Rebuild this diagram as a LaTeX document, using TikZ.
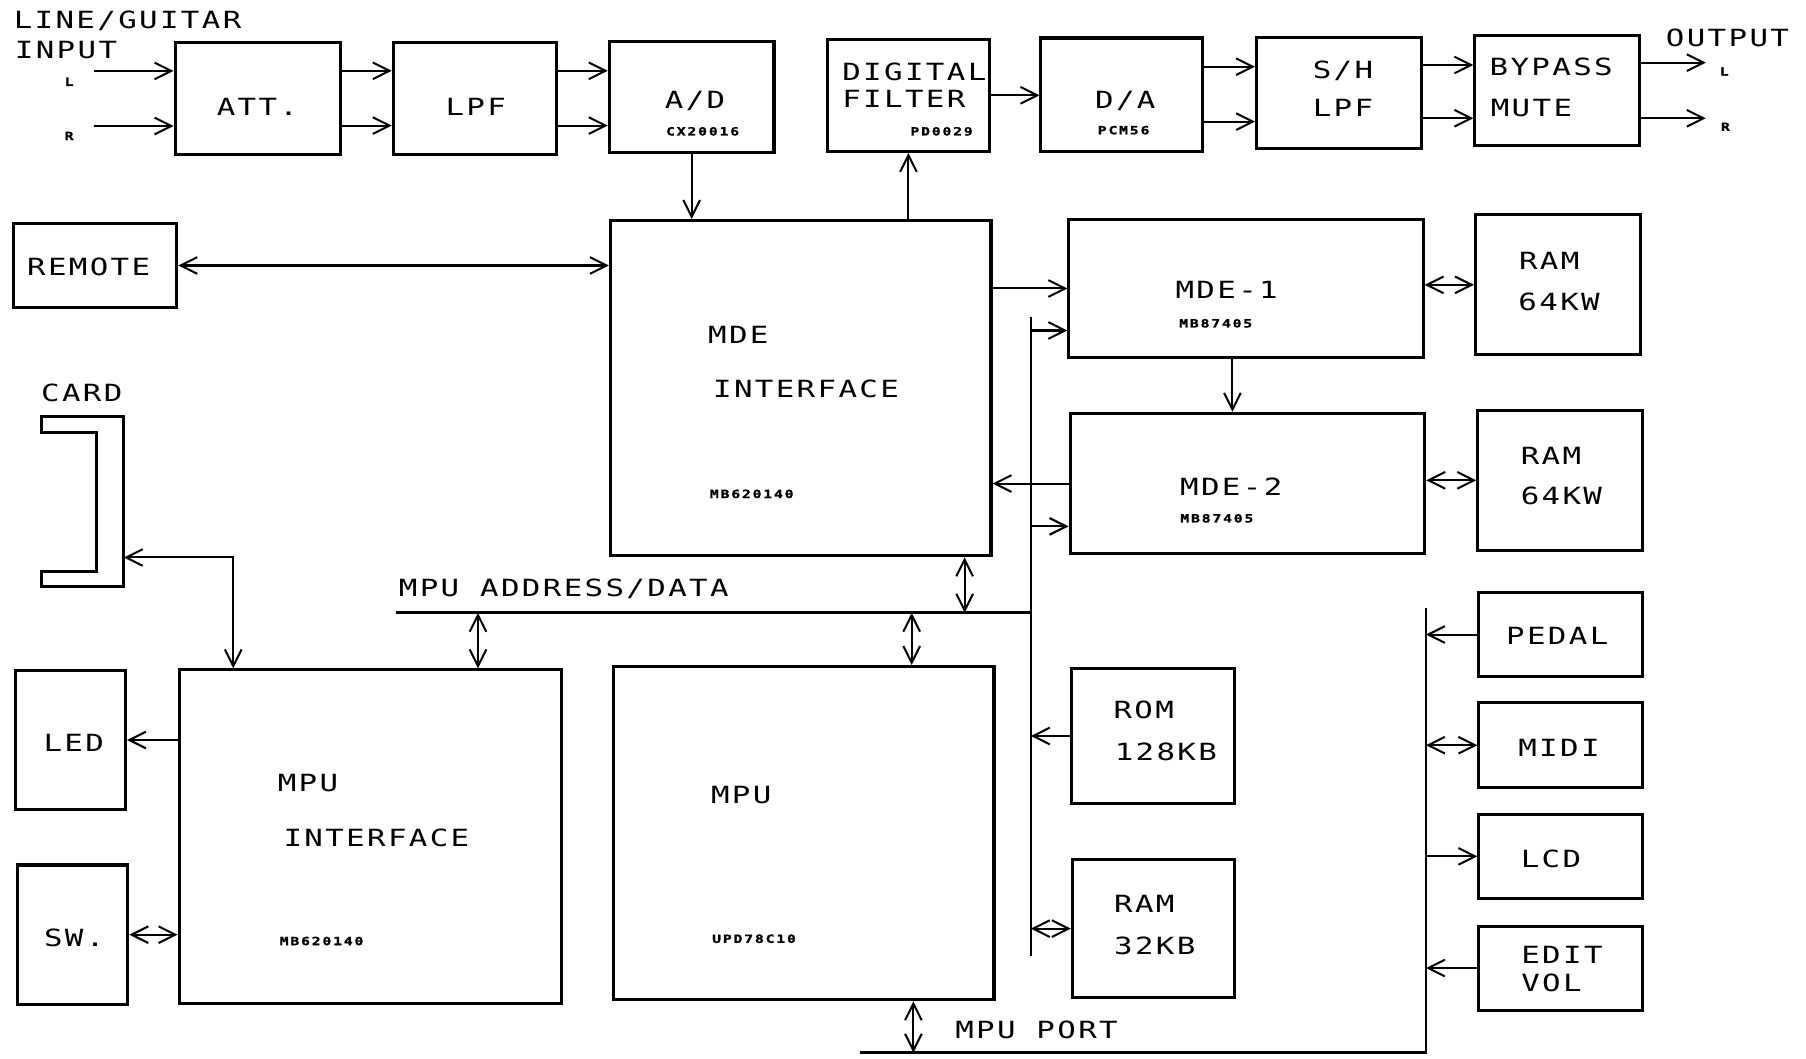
\documentclass[tikz,border=0pt]{standalone}
\usepackage{fontspec}
\usepackage{tikz}
\usetikzlibrary{arrows.meta}
\newfontfamily\plotfont{DejaVu Sans Mono}[FakeStretch=1.3, LetterSpace=10]
\newfontfamily\chipfont{DejaVu Sans Mono}[FakeStretch=1.3, LetterSpace=16, BoldFeatures={FakeBold=1.5}]
\tikzstyle{block} = [rectangle, draw=black, line width=1.5pt, inner sep=0pt]
\tikzstyle{txt} = [font=\plotfont\fontsize{11.7}{14}\selectfont, inner sep=0pt, text height=8.5pt, text depth=0pt]
\tikzstyle{chip} = [font=\chipfont\bfseries\fontsize{5.6}{7}\selectfont, inner sep=0pt, text height=4.1pt, text depth=0pt]
\tikzstyle{arrow} = [line width=1pt, -{Straight Barb[length=2.9mm, width=2.9mm]}]
\tikzstyle{dblarrow} = [line width=1pt, {Straight Barb[length=2.9mm, width=2.9mm]}-{Straight Barb[length=2.9mm, width=2.9mm]}]
\tikzstyle{bus} = [line width=1.3pt]

\begin{document}
\begin{tikzpicture}
	\useasboundingbox (0,0) rectangle (31.36,-18.372);
	% audio path
	\node (att) [block, minimum width=2.88cm, minimum height=1.94cm] at (4.48,-1.71) {};
	\node (lpf) [block, minimum width=2.84cm, minimum height=1.94cm] at (8.25,-1.71) {};
	\node (adc) [block, minimum width=2.86cm, minimum height=1.93cm] at (12.01,-1.68) {};
	\node (dfilt) [block, minimum width=2.81cm, minimum height=1.95cm] at (15.775,-1.655) {};
	\node (dac) [block, minimum width=2.81cm, minimum height=1.97cm] at (19.48,-1.645) {};
	\node (shlpf) [block, minimum width=2.87cm, minimum height=1.93cm] at (23.255,-1.61) {};
	\node (bypass) [block, minimum width=2.86cm, minimum height=1.92cm] at (27.04,-1.57) {};

	\node (inlbl) [txt, anchor=west] at (0.232,-0.348) {LINE/GUITAR};
	\node (inlbl2) [txt, anchor=west] at (0.252,-0.86) {INPUT};
	\node (inl) [chip] at (1.2,-1.42) {L};
	\node (inr) [chip] at (1.2,-2.36) {R};
	\node (atttxt) [txt] at (4.47,-1.86) {ATT.};
	\node (lpftxt) [txt] at (8.26,-1.85) {LPF};
	\node (adctxt) [txt] at (12.07,-1.74) {A/D};
	\node (adcchip) [chip] at (12.2,-2.28) {CX20016};
	\node (dfilttxt) [txt, anchor=west] at (14.62,-1.24) {DIGITAL};
	\node (dfilttxt2) [txt, anchor=west] at (14.62,-1.72) {FILTER};
	\node (dfiltchip) [chip] at (16.35,-2.28) {PD0029};
	\node (dactxt) [txt] at (19.54,-1.74) {D/A};
	\node (dacchip) [chip] at (19.51,-2.26) {PCM56};
	\node (shtxt) [txt] at (23.32,-1.216) {S/H};
	\node (shtxt2) [txt] at (23.32,-1.88) {LPF};
	\node (bypasstxt) [txt, anchor=west] at (25.86,-1.158) {BYPASS};
	\node (bypasstxt2) [txt, anchor=west] at (25.88,-1.88) {MUTE};
	\node (outlbl) [txt, anchor=west] at (28.92,-0.666) {OUTPUT};
	\node (outl) [chip] at (29.94,-1.24) {L};
	\node (outr) [chip] at (29.96,-2.2) {R};

	\coordinate (inLs) at (1.628,-1.232);
	\coordinate (inRs) at (1.628,-2.188);
	\coordinate (outLe) at (29.62,-1.088);
	\coordinate (outRe) at (29.62,-2.054);
	\draw [arrow] (inLs) -- (inLs -| att.west);
	\draw [arrow] (inRs) -- (inRs -| att.west);
	\draw [arrow] ([yshift=0.48cm]att.east) -- ([yshift=0.48cm]att.east -| lpf.west);
	\draw [arrow] ([yshift=-0.47cm]att.east) -- ([yshift=-0.47cm]att.east -| lpf.west);
	\draw [arrow] ([yshift=0.48cm]lpf.east) -- ([yshift=0.48cm]lpf.east -| adc.west);
	\draw [arrow] ([yshift=-0.47cm]lpf.east) -- ([yshift=-0.47cm]lpf.east -| adc.west);
	\draw [arrow] (dfilt.east) -- (dfilt.east -| dac.west);
	\draw [arrow] ([yshift=0.487cm]dac.east) -- ([yshift=0.487cm]dac.east -| shlpf.west);
	\draw [arrow] ([yshift=-0.467cm]dac.east) -- ([yshift=-0.467cm]dac.east -| shlpf.west);
	\draw [arrow] ([yshift=0.482cm]shlpf.east) -- ([yshift=0.482cm]shlpf.east -| bypass.west);
	\draw [arrow] ([yshift=-0.444cm]shlpf.east) -- ([yshift=-0.444cm]shlpf.east -| bypass.west);
	\draw [arrow] (outLe -| bypass.east) -- (outLe);
	\draw [arrow] (outRe -| bypass.east) -- (outRe);

	% mde section
	\node (remote) [block, minimum width=2.84cm, minimum height=1.46cm] at (1.65,-4.61) {};
	\node (remotetxt) [txt] at (1.54,-4.64) {REMOTE};
	\node (mdeif) [block, minimum width=6.608cm, minimum height=5.822cm] at (13.904,-6.741) {};
	\node (mdeiftxt) [txt, anchor=west] at (12.29,-5.816) {MDE};
	\node (mdeiftxt2) [txt, anchor=west] at (12.376,-6.76) {INTERFACE};
	\node (mdeifchip) [chip, anchor=west] at (12.32,-8.576) {MB620140};
	\node (mde1) [block, minimum width=6.15cm, minimum height=2.40cm] at (21.635,-5.009) {};
	\node (mde1txt) [txt] at (21.3,-5.034) {MDE-1};
	\node (mde1chip) [chip] at (21.11,-5.614) {MB87405};
	\node (mde2) [block, minimum width=6.16cm, minimum height=2.44cm] at (21.66,-8.397) {};
	\node (mde2txt) [txt] at (21.38,-8.448) {MDE-2};
	\node (mde2chip) [chip] at (21.13,-9.0) {MB87405};
	\node (ram1) [block, minimum width=2.86cm, minimum height=2.43cm] at (27.05,-4.946) {};
	\node (ram1txt) [txt, anchor=west] at (26.37,-4.53) {RAM};
	\node (ram1txt2) [txt, anchor=west] at (26.36,-5.236) {64KW};
	\node (ram2) [block, minimum width=2.86cm, minimum height=2.44cm] at (27.09,-8.34) {};
	\node (ram2txt) [txt, anchor=west] at (26.4,-7.916) {RAM};
	\node (ram2txt2) [txt, anchor=west] at (26.4,-8.618) {64KW};

	% card slot
	\node (cardlbl) [txt] at (1.42,-6.82) {CARD};
	\draw [line width=1.5pt] (0.72,-7.24) -- (2.15,-7.24) -- (2.15,-10.18) -- (0.72,-10.18) -- (0.72,-9.92) -- (1.67,-9.92) -- (1.67,-7.512) -- (0.72,-7.512) -- cycle;
	\coordinate (cardport) at (2.15,-9.68);

	% mpu section
	\node (led) [block, minimum width=1.914cm, minimum height=2.42cm] at (1.223,-12.85) {};
	\node (ledtxt) [txt] at (1.28,-12.9) {LED};
	\node (sw) [block, minimum width=1.908cm, minimum height=2.42cm] at (1.266,-16.23) {};
	\node (swtxt) [txt] at (1.29,-16.29) {SW.};
	\node (mpuif) [block, minimum width=6.644cm, minimum height=5.798cm] at (6.432,-14.531) {};
	\node (mpuiftxt) [txt, anchor=west] at (4.816,-13.6) {MPU};
	\node (mpuiftxt2) [txt, anchor=west] at (4.916,-14.554) {INTERFACE};
	\node (mpuifchip) [chip, anchor=west] at (4.85,-16.34) {MB620140};
	\node (mpu) [block, minimum width=6.612cm, minimum height=5.786cm] at (13.954,-14.467) {};
	\node (mputxt) [txt, anchor=west] at (12.34,-13.8) {MPU};
	\node (mpuchip) [chip, anchor=west] at (12.36,-16.3) {UPD78C10};
	\node (rom) [block, minimum width=2.836cm, minimum height=2.36cm] at (20.018,-12.78) {};
	\node (romtxt) [txt, anchor=west] at (19.33,-12.326) {ROM};
	\node (romtxt2) [txt, anchor=west] at (19.35,-13.05) {128KB};
	\node (ram3) [block, minimum width=2.82cm, minimum height=2.39cm] at (20.03,-16.125) {};
	\node (ram3txt) [txt, anchor=west] at (19.34,-15.69) {RAM};
	\node (ram3txt2) [txt, anchor=west] at (19.34,-16.43) {32KB};
	\node (pedal) [block, minimum width=2.84cm, minimum height=1.46cm] at (27.1,-11.018) {};
	\node (pedaltxt) [txt] at (27.04,-11.05) {PEDAL};
	\node (midi) [block, minimum width=2.84cm, minimum height=1.48cm] at (27.1,-12.94) {};
	\node (miditxt) [txt] at (27.07,-12.99) {MIDI};
	\node (lcd) [block, minimum width=2.84cm, minimum height=1.46cm] at (27.1,-14.87) {};
	\node (lcdtxt) [txt, anchor=west] at (26.4,-14.92) {LCD};
	\node (editvol) [block, minimum width=2.84cm, minimum height=1.46cm] at (27.1,-16.81) {};
	\node (edittxt) [txt, anchor=west] at (26.41,-16.58) {EDIT};
	\node (edittxt2) [txt, anchor=west] at (26.41,-17.07) {VOL};

	% buses
	\coordinate (bustop) at (17.9,-5.5);
	\coordinate (busbot) at (17.9,-16.6);
	\coordinate (adbus) at (6.88,-10.64);
	\coordinate (porttop) at (24.76,-10.56);
	\coordinate (portl) at (14.94,-18.28);
	\node (adbuslbl) [txt, anchor=west] at (6.92,-10.2) {MPU ADDRESS/DATA};
	\node (portlbl) [txt, anchor=west] at (16.58,-17.88) {MPU PORT};
	\draw [bus] (bustop) -- (busbot);
	\draw [bus] (adbus) -- (adbus -| bustop);
	\draw [bus] (portl) -- (portl -| porttop) -- (porttop);

	\draw [arrow] (adc.south) -- (adc.south |- mdeif.north);
	\draw [arrow] (dfilt.south |- mdeif.north) -- (dfilt.south);
	\draw [dblarrow] (remote.east) -- (remote.east -| mdeif.west);
	\draw [arrow] (mde1.west -| mdeif.east) -- (mde1.west);
	\draw [arrow] ([yshift=-0.73cm]mde1.west -| bustop) -- ([yshift=-0.73cm]mde1.west);
	\draw [arrow] ([xshift=-0.235cm]mde1.south) -- ([xshift=-0.235cm]mde1.south |- mde2.north);
	\draw [arrow] (mde2.west) -- (mde2.west -| mdeif.east);
	\draw [arrow] ([yshift=-0.743cm]mde2.west -| bustop) -- ([yshift=-0.743cm]mde2.west);
	\draw [dblarrow] (mde1.east |- ram1.west) -- (ram1.west);
	\draw [dblarrow] (mde2.east |- ram2.west) -- (ram2.west);
	\draw [dblarrow] ([xshift=2.846cm]mdeif.south) -- ([xshift=2.846cm]mdeif.south |- adbus);
	\draw [dblarrow] ([xshift=1.868cm]mpuif.north) -- ([xshift=1.868cm]mpuif.north |- adbus);
	\draw [dblarrow] ([xshift=1.876cm]mpu.north) -- ([xshift=1.876cm]mpu.north |- adbus);
	\draw [dblarrow] ([xshift=1.906cm]mpu.south) -- ([xshift=1.906cm]mpu.south |- portl);
	\draw [dblarrow] (cardport) -| ([xshift=-2.382cm]mpuif.north);
	\draw [arrow] (led.east -| mpuif.west) -- (led.east);
	\draw [dblarrow] (sw.east) -- (sw.east -| mpuif.west);
	\draw [arrow] (rom.west) -- (rom.west -| bustop);
	\draw [dblarrow] (ram3.west) -- (ram3.west -| bustop);
	\draw [arrow] (pedal.west) -- (pedal.west -| porttop);
	\draw [dblarrow] (midi.west) -- (midi.west -| porttop);
	\draw [arrow] (lcd.west -| porttop) -- (lcd.west);
	\draw [arrow] (editvol.west) -- (editvol.west -| porttop);
\end{tikzpicture}
\end{document}
